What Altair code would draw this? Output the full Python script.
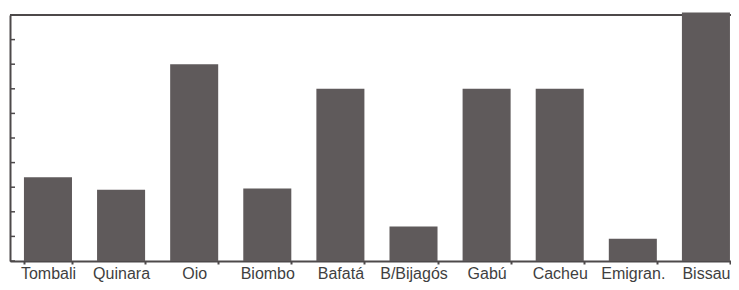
import altair as alt
import pandas as pd

regions = ["Tombali", "Quinara", "Oio", "Biombo", "Bafatá", "B/Bijagós",
           "Gabú", "Cacheu", "Emigran.", "Bissau"]
values = [3.4, 2.9, 8.0, 2.95, 7.0, 1.4, 7.0, 7.0, 0.9, 10.1]
tick_values = list(range(0, 11))

df = pd.DataFrame({"region": regions, "value": values})
ticks_df = pd.DataFrame({"t": tick_values})

W, H = 721, 246
INK = "#4d494a"
BAR = "#5f5a5b"

x_enc = alt.X("region:N", sort=regions, title=None,
              scale=alt.Scale(paddingInner=0.343, paddingOuter=0.1026, align=0.93),
              axis=alt.Axis(labelAngle=0, labelFont="Liberation Sans", labelFontSize=16,
                            labelColor="#3f3f3f", labelBaseline="alphabetic",
                            labelPadding=14, tickSize=3, tickBand="extent",
                            tickColor=INK, tickWidth=2,
                            domainColor=INK, domainWidth=2, grid=False))
y_scale = alt.Scale(domain=[0, 10], nice=False)

frame = alt.Chart(ticks_df).mark_rule(color=INK, strokeWidth=2).encode(
    x=alt.value(0), x2=alt.value(W), y=alt.value(0))

bars = alt.Chart(df).mark_bar(color=BAR, clip=False).encode(
    x=x_enc,
    y=alt.Y("value:Q", scale=y_scale, title=None,
            axis=alt.Axis(labels=False, ticks=False, grid=False,
                          domainColor=INK, domainWidth=2)),
)

yticks = alt.Chart(ticks_df).mark_rule(color=INK, strokeWidth=1.5).encode(
    y=alt.Y("t:Q", scale=y_scale),
    x=alt.value(0), x2=alt.value(5))

chart = alt.layer(frame, bars, yticks).properties(
    width=W, height=H,
    autosize=alt.AutoSizeParams(type="none"),
    padding={"left": 2, "top": 7, "right": 0, "bottom": 21},
    background="#ffffff",
).configure_view(stroke=None)

chart.save("out.html", embed_options={"renderer": "svg", "actions": False})
